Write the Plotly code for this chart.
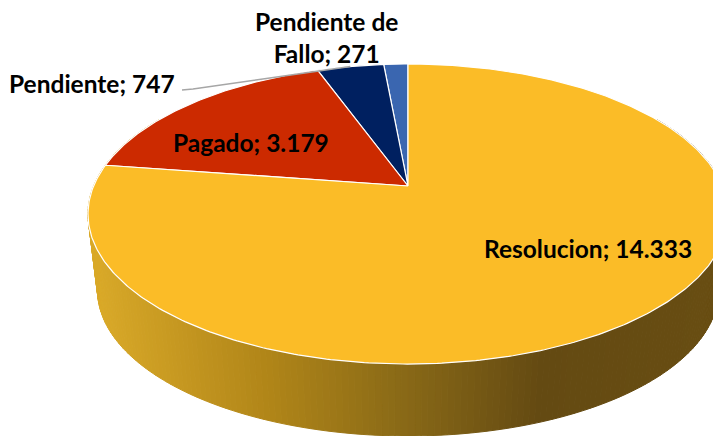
import numpy as np
import plotly.graph_objects as go

categories = ["Resolucion", "Pagado", "Pendiente", "Pendiente de Fallo"]
values = [14333, 3179, 747, 271]
slice_colors = ["#FBBC27", "#CC2A00", "#002060", "#3A66B0"]
label_text = ["Resolucion; 14.333", "Pagado; 3.179", "Pendiente; 747", "Pendiente de<br>Fallo; 271"]
label_x = [588, 251, 92, 326]
label_y = [248, 142, 83, 37]
wall_stop_x = [97, 270, 400, 540, 713]
wall_stop_rgb = [(217, 169, 40), (176, 133, 24), (138, 106, 23), (100, 74, 18), (104, 77, 18)]

W, H = 713, 436
CX, CY, R, V, K = 408.0, 186.0, 314.4, 144.8, 0.1867
WALL_CY, WALL_S = 263.3, 0.97


def project(theta, cy=CY, s=1.0):
    u, v = np.sin(theta), np.cos(theta)
    d = 1 + K * v
    return CX + s * R * u / d, cy - s * V * v / d


def wall_color(x):
    c = [np.interp(x, wall_stop_x, [p[i] for p in wall_stop_rgb]) for i in range(3)]
    return "rgb(%d,%d,%d)" % tuple(int(round(a)) for a in c)


fig = go.Figure()

# side wall: thin strips shaded by horizontal position
edges = np.radians(np.linspace(60, 300, 241))
for a, b in zip(edges[:-1], edges[1:]):
    t = np.array([a, b])
    x1, y1 = project(t)
    x2, y2 = project(t, WALL_CY, WALL_S)
    xs = np.r_[x1, x2[::-1], x1[0]]
    ys = np.r_[y1, y2[::-1], y1[0]]
    col = wall_color(xs.mean())
    fig.add_trace(go.Scatter(x=xs, y=ys, mode="lines", fill="toself", fillcolor=col,
                             line=dict(color=col, width=1), hoverinfo="skip", showlegend=False))

# top face: slices run clockwise from twelve o'clock, last category first in drawing angle
total = sum(values)
order = [3, 2, 1, 0]  # anticlockwise from the top
start = 0.0
mids = {}
for i in order:
    sweep = values[i] / total * 2 * np.pi
    t = -np.linspace(start, start + sweep, max(int(sweep * 90), 6))
    mids[i] = -(start + sweep / 2)
    ex, ey = project(t)
    xs = np.r_[CX, ex, CX]
    ys = np.r_[CY, ey, CY]
    fig.add_trace(go.Scatter(x=xs, y=ys, mode="lines", fill="toself", fillcolor=slice_colors[i],
                             line=dict(color="#FFFFFF", width=1.2), name=categories[i],
                             hoverinfo="skip", showlegend=False))
    start += sweep

# leader line to the "Pendiente" slice
lx, ly = project(mids[2])
fig.add_trace(go.Scatter(x=[182, 193, lx], y=[90, 89, ly], mode="lines",
                         line=dict(color="#A6A6A6", width=1.5), hoverinfo="skip", showlegend=False))

for txt, x, y in zip(label_text, label_x, label_y):
    fig.add_annotation(x=x, y=y, text="<b>%s</b>" % txt, showarrow=False, xanchor="center", yanchor="middle",
                       font=dict(family="Lato", size=24.5, color="#000000"))

fig.update_layout(width=W, height=H, margin=dict(l=0, r=0, t=0, b=0), autosize=False,
                  paper_bgcolor="#FFFFFF", plot_bgcolor="#FFFFFF",
                  xaxis=dict(range=[0, W], visible=False, fixedrange=True),
                  yaxis=dict(range=[H, 0], visible=False, fixedrange=True))
fig.write_html("out.html", config={"displayModeBar": False}, default_width=W, default_height=H,
               post_script="document.body.style.margin='0';document.body.style.overflow='hidden';")
